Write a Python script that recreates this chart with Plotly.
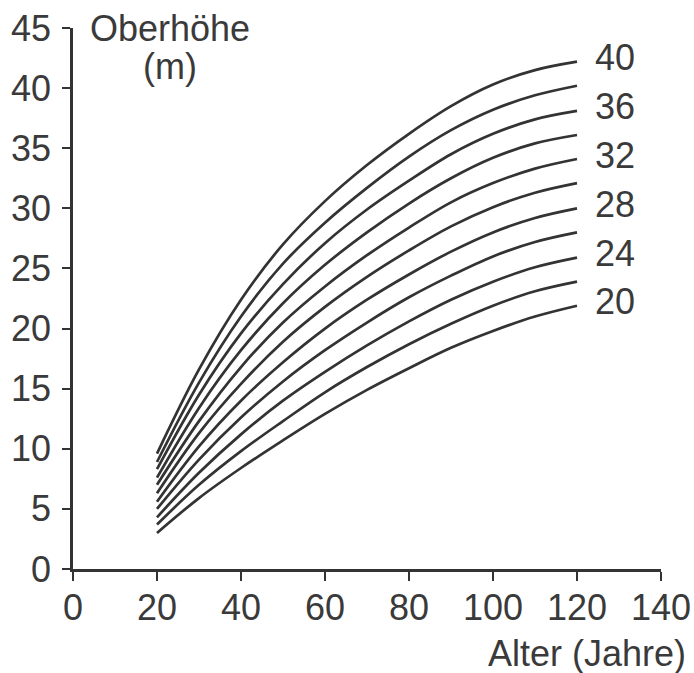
import plotly.graph_objects as go

ages = [20, 30, 40, 50, 60, 70, 80, 90, 100, 110, 120]

si40 = [9.6, 16.6, 22.4, 27.0, 30.6, 33.6, 36.2, 38.5, 40.3, 41.5, 42.2]
si38 = [8.9, 15.5, 21.0, 25.4, 28.8, 31.7, 34.3, 36.5, 38.2, 39.4, 40.2]
si36 = [8.3, 14.5, 19.6, 23.7, 27.1, 29.9, 32.3, 34.5, 36.2, 37.4, 38.1]
si34 = [7.6, 13.4, 18.2, 22.1, 25.3, 28.0, 30.4, 32.5, 34.2, 35.4, 36.1]
si32 = [7.0, 12.3, 16.8, 20.5, 23.5, 26.1, 28.4, 30.5, 32.1, 33.3, 34.1]
si30 = [6.3, 11.3, 15.4, 18.9, 21.8, 24.3, 26.5, 28.5, 30.1, 31.3, 32.1]
si28 = [5.6, 10.2, 14.0, 17.2, 20.0, 22.4, 24.5, 26.4, 28.0, 29.2, 30.0]
si26 = [5.0, 9.1, 12.6, 15.6, 18.2, 20.5, 22.6, 24.4, 26.0, 27.2, 28.0]
si24 = [4.3, 8.0, 11.2, 14.0, 16.4, 18.6, 20.6, 22.4, 23.9, 25.1, 25.9]
si22 = [3.7, 7.0, 9.8, 12.3, 14.7, 16.8, 18.7, 20.4, 21.9, 23.1, 23.9]
si20 = [3.0, 5.9, 8.4, 10.7, 12.9, 14.9, 16.7, 18.4, 19.8, 21.0, 21.9]

curves = [si40, si38, si36, si34, si32, si30, si28, si26, si24, si22, si20]
site_index = [40, 38, 36, 34, 32, 30, 28, 26, 24, 22, 20]
labelled = [40, 36, 32, 28, 24, 20]

x_ticks = [0, 20, 40, 60, 80, 100, 120, 140]
y_ticks = [0, 5, 10, 15, 20, 25, 30, 35, 40, 45]

FONT = "Liberation Sans, Arial, Helvetica, sans-serif"
TXT = "#3a3a3a"
LINE = "#333333"
FS = 36

fig = go.Figure()
for si, ys in zip(site_index, curves):
    fig.add_trace(go.Scatter(x=ages, y=ys, mode="lines", name=str(si),
                             line=dict(color=LINE, width=2.7, shape="spline"),
                             showlegend=False, hoverinfo="skip"))

for si, ys in zip(site_index, curves):
    if si in labelled:
        fig.add_annotation(x=ages[-1], y=ys[-1], text=str(si), showarrow=False,
                           xanchor="left", yanchor="middle", xshift=16, yshift=4,
                           font=dict(family=FONT, size=FS, color=TXT))

fig.add_annotation(xref="paper", yref="paper", x=0.165, y=1.0,
                   text="Oberhöhe", showarrow=False,
                   xanchor="center", yanchor="middle",
                   font=dict(family=FONT, size=FS, color=TXT))
fig.add_annotation(xref="paper", yref="paper", x=0.165, y=0.928,
                   text="(m)", showarrow=False,
                   xanchor="center", yanchor="middle",
                   font=dict(family=FONT, size=FS, color=TXT))
fig.add_annotation(xref="paper", yref="paper", x=1.046, y=-0.157,
                   text="Alter (Jahre)", showarrow=False,
                   xanchor="right", yanchor="middle",
                   font=dict(family=FONT, size=FS, color=TXT))

fig.update_xaxes(range=[0, 140], tickvals=x_ticks, ticks="outside", ticklen=9,
                 tickwidth=2, tickcolor=LINE, showline=True, linecolor=LINE,
                 linewidth=2.5, showgrid=False, zeroline=False, automargin=False,
                 ticklabelstandoff=-4,
                 tickfont=dict(family=FONT, size=FS, color=TXT))
fig.update_yaxes(range=[0, 45], tickvals=y_ticks, ticks="outside", ticklen=8,
                 tickwidth=2, tickcolor=LINE, showline=True, linecolor=LINE,
                 linewidth=2.5, showgrid=False, zeroline=False, automargin=False,
                 ticklabelstandoff=4,
                 tickfont=dict(family=FONT, size=FS, color=TXT))

fig.update_layout(width=694, height=673, plot_bgcolor="white",
                  paper_bgcolor="white",
                  margin=dict(l=73, r=33, t=28, b=104))

fig.write_html("out.html", config={"displayModeBar": False},
               post_script="document.body.style.margin='0';document.body.style.overflow='hidden';")
